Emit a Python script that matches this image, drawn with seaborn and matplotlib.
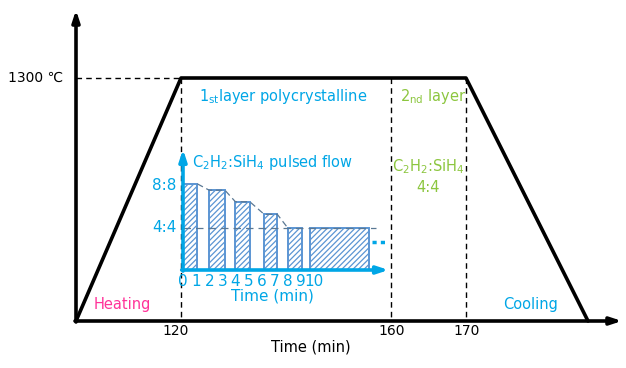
import numpy as np
import matplotlib
matplotlib.use("Agg")
import matplotlib.pyplot as plt
import seaborn as sns

sns.set_theme(style="white")
plt.rcParams['font.family'] = ['DejaVu Sans']
plt.rcParams['hatch.linewidth'] = 0.9

# ---- data ----
stage_times = [0, 120, 160, 170, 210]          # min (schematic)
stage_temps = [0, 1300, 1300, 1300, 0]         # deg C
time_tick_labels = ["120", "160", "170"]
temp_label = "1300 \u2103"

pulse_start = [0, 2, 4, 6.2, 8, 9.7]           # min (inset)
pulse_end = [1.1, 3.2, 5.1, 7.2, 9.1, 14.2]
pulse_ratio = [8.2, 7.6, 6.5, 5.3, 4.0, 4.0]   # C2H2:SiH4 flow level
inset_ticks = list(range(0, 11))
ratio_labels = ["8:8", "4:4"]
ratio_levels = [8, 4]

# ---- layout (schematic pixel anchors) ----
W, H = 626, 368
x_anchor = [76, 181, 391, 466, 588]
y0_px, y1300_px = 321, 78

def tx(t):
    return np.interp(t, stage_times, x_anchor)

def ty(T):
    return y0_px + (y1300_px - y0_px) * np.asarray(T) / 1300.0

fig = plt.figure(figsize=(W / 100, H / 100), dpi=100)
ax = fig.add_axes([0, 0, 1, 1])
ax.set_xlim(0, W)
ax.set_ylim(H, 0)
ax.axis("off")

blue = "#00a6e6"
green = "#8cc63f"
pink = "#ff3399"

head = "-|>,head_length=0.55,head_width=0.18"
# axes arrows
ax.annotate("", xy=(76, 10), xytext=(76, 322),
            arrowprops=dict(arrowstyle=head, lw=2.6, color="black", shrinkA=0, shrinkB=0))
ax.annotate("", xy=(622, 321), xytext=(75, 321),
            arrowprops=dict(arrowstyle=head, lw=2.6, color="black", shrinkA=0, shrinkB=0))

# temperature profile
px = tx(stage_times)
py = ty(stage_temps)
sns.lineplot(x=px, y=py, ax=ax, color="black", lw=2.6, sort=False, estimator=None)

# dashed guides
ax.plot([76, px[1]], [ty(1300), ty(1300)], ls=(0, (4, 3)), color="black", lw=1)
for t in stage_times[1:4]:
    ax.plot([tx(t), tx(t)], [ty(1300), y0_px], ls=(0, (4, 3)), color="black", lw=1)

ax.text(63, ty(1300), temp_label, ha="right", va="center", fontsize=10, color="black")
for t, lab in zip(stage_times[1:4], time_tick_labels):
    ax.text(tx(t) - (5 if lab == "120" else -1), 331, lab, ha="center", va="center", fontsize=10, color="black")
ax.text(311, 347, "Time (min)", ha="center", va="center", fontsize=10.5, color="black")

ax.text(199, 96, "1$_{\\mathregular{st}}$layer polycrystalline", ha="left", va="center", fontsize=10.5, color=blue)
ax.text(400, 96, "2$_{\\mathregular{nd}}$ layer", ha="left", va="center", fontsize=10.5, color=green)
ax.text(428, 167, "C$_{\\mathregular{2}}$H$_{\\mathregular{2}}$:SiH$_{\\mathregular{4}}$", ha="center", va="center", fontsize=10.5, color=green)
ax.text(428, 187, "4:4", ha="center", va="center", fontsize=10.5, color=green)
ax.text(122, 305, "Heating", ha="center", va="center", fontsize=10.5, color=pink)
ax.text(531, 304, "Cooling", ha="center", va="center", fontsize=10.5, color=blue)

# ---- inset ----
ix0, iy0 = 183, 270
sx, sy = 13.1, 10.5
xmax, ymax = 16, 12
iax = fig.add_axes([ix0 / W, (H - iy0) / H, xmax * sx / W, ymax * sy / H])
iax.set_xlim(0, xmax)
iax.set_ylim(0, ymax)
iax.axis("off")
iax.patch.set_alpha(0)

widths = np.array(pulse_end) - np.array(pulse_start)
iax.bar(pulse_start, pulse_ratio, width=widths, align="edge", facecolor="white",
        edgecolor="#5b95d3", hatch="//////", lw=1.4)

# dashed trend line through tops
iax.plot([pulse_end[0], pulse_start[1], pulse_end[1], pulse_start[2], pulse_end[2],
          pulse_start[3], pulse_end[3], pulse_start[4]],
         [pulse_ratio[0], pulse_ratio[1], pulse_ratio[1], pulse_ratio[2], pulse_ratio[2],
          pulse_ratio[3], pulse_ratio[3], pulse_ratio[4]],
         ls=(0, (5, 3)), color="#5a7894", lw=0.9)
iax.plot([0, 14.7], [ratio_levels[1], ratio_levels[1]], ls=(0, (6, 4)), color="#5a7894", lw=0.9)
iax.plot([14.4, 15.4], [2.7, 2.7], ls=(0, (1.2, 1.2)), color=blue, lw=2.5)

iax.annotate("", xy=(0, 11.5), xytext=(0, -0.1),
             arrowprops=dict(arrowstyle=head, lw=2.6, color=blue, shrinkA=0, shrinkB=0),
             annotation_clip=False)
iax.annotate("", xy=(15.7, 0), xytext=(-0.1, 0),
             arrowprops=dict(arrowstyle=head, lw=2.6, color=blue, shrinkA=0, shrinkB=0),
             annotation_clip=False)

for lev, lab in zip(ratio_levels, ratio_labels):
    iax.text(-0.5, lev, lab, ha="right", va="center", fontsize=11, color=blue, clip_on=False)
for t in inset_ticks:
    iax.text(t, -1.05, str(t), ha="center", va="center", fontsize=11, color=blue, clip_on=False)
iax.text(6.8, -2.5, "Time (min)", ha="center", va="center", fontsize=11, color=blue, clip_on=False)
iax.text(0.7, 10.2, "C$_{\\mathregular{2}}$H$_{\\mathregular{2}}$:SiH$_{\\mathregular{4}}$ pulsed flow",
         ha="left", va="center", fontsize=10.5, color=blue, clip_on=False)

fig.savefig("out.png", dpi=100)
